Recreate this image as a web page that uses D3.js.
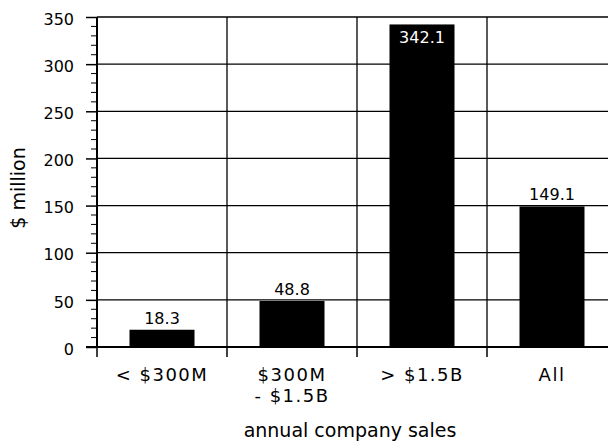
<!DOCTYPE html>
<html>
<head>
<meta charset="utf-8">
<script src="https://cdn.jsdelivr.net/npm/d3@7"></script>
<style>
  html, body { margin: 0; padding: 0; background: #fff; }
  svg { display: block; }
  text { font-family: "DejaVu Sans", sans-serif; fill: #000; }
</style>
</head>
<body>
<svg id="chart" width="608" height="447"></svg>
<script>
// Average value by company size class
const categories = ["< $300M", "$300M\n- $1.5B", "> $1.5B", "All"];
const values = [18.3, 48.8, 342.1, 149.1];
const valueLabels = ["18.3", "48.8", "342.1", "149.1"];
const yTicks = [0, 50, 100, 150, 200, 250, 300, 350];
const yMinorTicks = d3.range(0, 351, 10).filter(v => v % 50 !== 0);
const yTitle = "$ million";
const xTitle = "annual company sales";

const svg = d3.select("#chart");
const plotLeft = 97, plotRight = 617, plotTop = 17, plotBottom = 347;

const x = d3.scaleBand().domain(categories).range([plotLeft, plotRight]).padding(0);
const y = d3.scaleLinear().domain([0, 350]).range([plotBottom, plotTop]);
const bw = x.bandwidth();

// horizontal gridlines
svg.append("g").selectAll("line").data(yTicks.filter(v => v > 0)).join("line")
  .attr("x1", plotLeft).attr("x2", plotRight)
  .attr("y1", d => y(d)).attr("y2", d => y(d))
  .attr("stroke", "#000").attr("stroke-width", 1.3);

// vertical separators between categories
svg.append("g").selectAll("line").data(categories.slice(1)).join("line")
  .attr("x1", d => x(d)).attr("x2", d => x(d))
  .attr("y1", plotTop).attr("y2", plotBottom)
  .attr("stroke", "#000").attr("stroke-width", 1.3);

// bars
svg.append("g").selectAll("rect").data(values).join("rect")
  .attr("x", (d, i) => x(categories[i]) + bw / 4)
  .attr("width", bw / 2)
  .attr("y", d => y(d))
  .attr("height", d => y(0) - y(d))
  .attr("fill", "#000");

// value labels: above the bar, or white inside when the bar reaches the top
svg.append("g").selectAll("text").data(values).join("text")
  .attr("x", (d, i) => x(categories[i]) + bw / 2)
  .attr("y", d => y(d) > 60 ? y(d) - 6 : y(d) + 19)
  .attr("text-anchor", "middle")
  .attr("font-size", 16)
  .style("fill", d => y(d) > 60 ? "#000" : "#fff")
  .text((d, i) => valueLabels[i]);

// y axis with major ticks and labels
const yAxis = d3.axisLeft(y).tickValues(yTicks).tickSize(11).tickPadding(12).tickFormat(d3.format("d"));
const gy = svg.append("g").attr("transform", `translate(${plotLeft},0)`).call(yAxis);
gy.select(".domain").remove();
gy.selectAll(".tick line").attr("stroke", "#000").attr("stroke-width", 1.5);
gy.selectAll(".tick text").attr("font-size", 16).attr("font-family", "DejaVu Sans").attr("dy", "0.45em");

// minor ticks
svg.append("g").selectAll("line").data(yMinorTicks).join("line")
  .attr("x1", plotLeft - 6).attr("x2", plotLeft)
  .attr("y1", d => y(d)).attr("y2", d => y(d))
  .attr("stroke", "#000").attr("stroke-width", 1);

// axis lines
svg.append("line").attr("x1", plotLeft).attr("x2", plotLeft).attr("y1", plotTop).attr("y2", plotBottom + 1)
  .attr("stroke", "#000").attr("stroke-width", 2);
svg.append("line").attr("x1", plotLeft - 11).attr("x2", plotRight).attr("y1", plotBottom).attr("y2", plotBottom)
  .attr("stroke", "#000").attr("stroke-width", 2);

// category boundary ticks below the baseline
svg.append("g").selectAll("line").data(categories).join("line")
  .attr("x1", d => x(d)).attr("x2", d => x(d))
  .attr("y1", plotBottom).attr("y2", plotBottom + 10)
  .attr("stroke", "#000").attr("stroke-width", 1.5);

// category labels (may wrap onto two lines)
const cat = svg.append("g").selectAll("text").data(categories).join("text")
  .attr("text-anchor", "middle")
  .attr("font-size", 18)
  .attr("letter-spacing", 1.5)
  .attr("y", 381);
cat.each(function (d) {
  const t = d3.select(this);
  d.split("\n").forEach((line, i) => {
    t.append("tspan")
      .attr("x", x(d) + bw / 2)
      .attr("dy", i === 0 ? 0 : 20.5)
      .text(line);
  });
});

// axis titles
svg.append("text")
  .attr("transform", `translate(25,${(plotTop + plotBottom) / 2 + 6}) rotate(-90)`)
  .attr("text-anchor", "middle")
  .attr("font-size", 19)
  .text(yTitle);

svg.append("text")
  .attr("x", 350).attr("y", 437)
  .attr("text-anchor", "middle")
  .attr("font-size", 19)
  .text(xTitle);
</script>
</body>
</html>
